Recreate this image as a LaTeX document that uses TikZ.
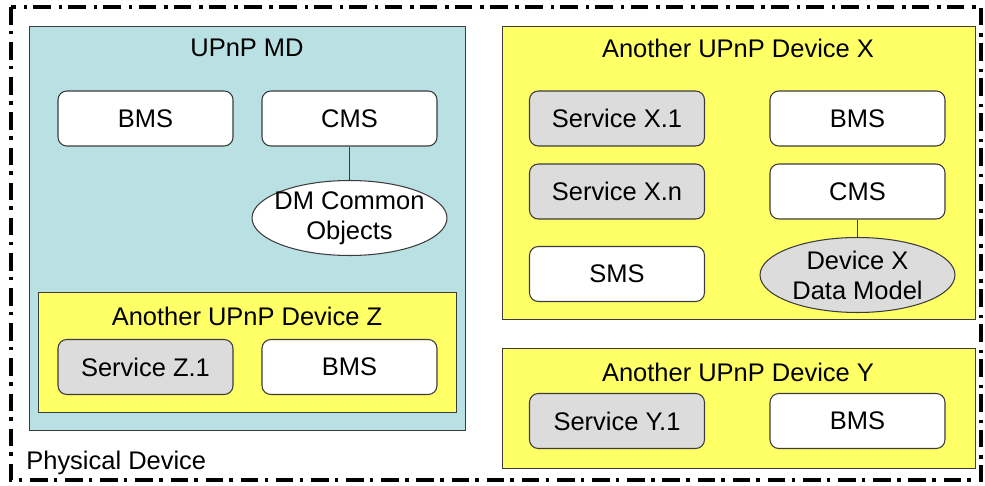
\documentclass[tikz,border=0pt]{standalone}
\usepackage{fontspec}
\setmainfont{Liberation Sans}
\usetikzlibrary{shapes,positioning}
\definecolor{mdteal}{RGB}{185,224,227}
\definecolor{devyellow}{RGB}{255,255,102}
\definecolor{svcgray}{RGB}{220,220,220}
\definecolor{edgegray}{RGB}{60,60,60}
\tikzset{
  %text size for everything
  every node/.style={font=\fontsize{14.5}{17}\selectfont},
  %define style for the device frames
  devbox/.style={
    rectangle,
    draw=edgegray,
    line width=0.8pt,
    anchor=north west},
  %define style for service boxes
  svcbox/.style={
    rectangle,
    rounded corners=5pt,
    draw=edgegray,
    line width=0.6pt,
    fill=white,
    minimum width=3.5cm,
    minimum height=1.1cm,
    text centered},
  svcgraybox/.style={
    svcbox,
    fill=svcgray},
  %define style for data model ellipses
  dmodel/.style={
    ellipse,
    draw=edgegray,
    line width=0.6pt,
    minimum width=3.9cm,
    minimum height=1.5cm,
    inner xsep=-4pt,
    inner ysep=-3pt,
    align=center},
  %define style for the physical border
  physborder/.style={
    line width=2.2pt,
    dash pattern=on 10pt off 3.5pt on 2pt off 4.5pt}
}

\begin{document}
\begin{tikzpicture}[x=0.02cm, y=-0.02cm]
\useasboundingbox (0,0) rectangle (985,486);

%physical device
\draw[physborder] (11,7) rectangle (981,480);
\node[anchor=west, inner sep=0pt] (physical) at (26,463) {Physical Device};

%frames
\node[devbox, fill=mdteal, minimum width=8.72cm, minimum height=8.08cm] (md) at (29,26) {};
\node[devbox, fill=devyellow, minimum width=8.36cm, minimum height=2.4cm] (devz) at (38,292) {};
\node[devbox, fill=devyellow, minimum width=9.46cm, minimum height=5.86cm] (devx) at (502,26) {};
\node[devbox, fill=devyellow, minimum width=9.46cm, minimum height=2.4cm] (devy) at (502,348) {};

%titles
\node (mdtitle) at (247,48) {UPnP MD};
\node (devztitle) at (247,316) {Another UPnP Device Z};
\node (devxtitle) at (738,48) {Another UPnP Device X};
\node (devytitle) at (738,372) {Another UPnP Device Y};

%UPnP MD
\node[svcbox] (mdbms) at (145.5,118.5) {BMS};
\node[svcbox] (mdcms) at (349.5,118.5) {CMS};
\node[dmodel, fill=white] (mdobj) at (349.5,218) {DM Common\\Objects};
\draw[edgegray, line width=0.6pt] (mdcms.south) -- (mdobj.north);

%device Z
\node[svcgraybox] (svcz) at (145.5,367) {Service Z.1};
\node[svcbox] (zbms) at (349.5,367) {BMS};

%device X
\node[svcgraybox] (svcx1) at (617,118.5) {Service X.1};
\node[svcbox] (xbms) at (857.5,118.5) {BMS};
\node[svcgraybox] (svcxn) at (617,191.5) {Service X.n};
\node[svcbox] (xcms) at (857.5,191.5) {CMS};
\node[svcbox] (xsms) at (617,274) {SMS};
\node[dmodel, fill=svcgray] (xmodel) at (857.5,275) {Device X\\Data Model};
\draw[edgegray, line width=0.6pt] (xcms.south) -- (xmodel.north);

%device Y
\node[svcgraybox] (svcy) at (617,421) {Service Y.1};
\node[svcbox] (ybms) at (857.5,421) {BMS};

\end{tikzpicture}
\end{document}
